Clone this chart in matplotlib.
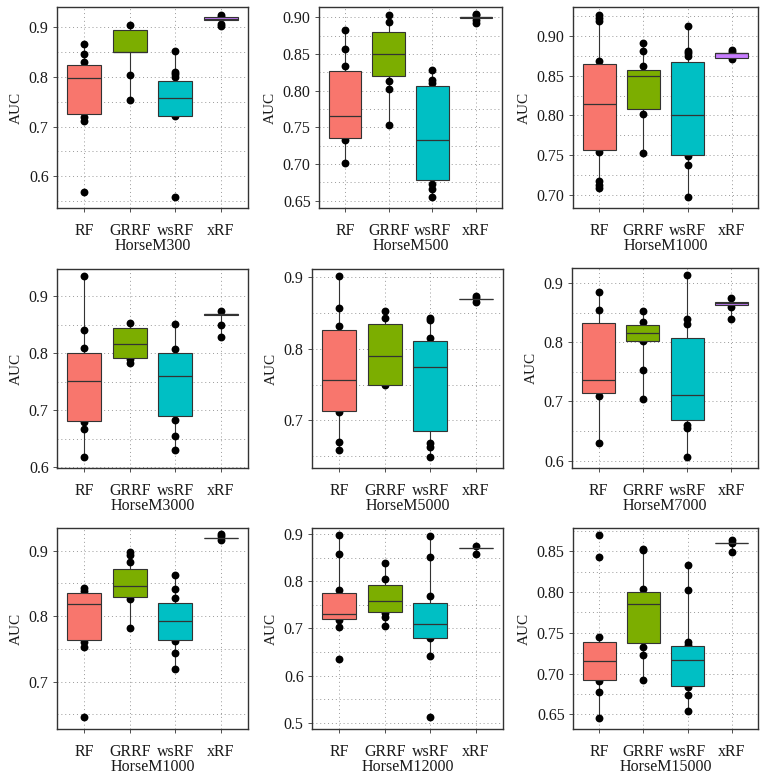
import numpy as np
import matplotlib
matplotlib.use("Agg")
import matplotlib.pyplot as plt
from matplotlib.ticker import MultipleLocator, FormatStrFormatter

plt.rcParams['font.family'] = ['Liberation Serif', 'DejaVu Serif']

methods = ["RF", "GRRF", "wsRF", "xRF"]
colors = ["#F8766D", "#7CAE00", "#00BFC4", "#C77CFF"]
datasets = ["HorseM300", "HorseM500", "HorseM1000",
            "HorseM3000", "HorseM5000", "HorseM7000",
            "HorseM1000", "HorseM12000", "HorseM15000"]

# box statistics per panel, one value per method (RF, GRRF, wsRF, xRF)
q1 = [[0.725, 0.850, 0.7215, 0.915],
      [0.736, 0.820, 0.678, 0.8995],
      [0.756, 0.808, 0.7496, 0.8731],
      [0.682, 0.7926, 0.690, 0.868],
      [0.7126, 0.750, 0.6847, 0.870],
      [0.715, 0.8015, 0.668, 0.8629],
      [0.7643, 0.8291, 0.7633, 0.920],
      [0.7195, 0.7343, 0.680, 0.870],
      [0.6926, 0.7373, 0.6844, 0.860]]
med = [[0.798, 0.850, 0.757, 0.917],
       [0.7655, 0.850, 0.7327, 0.900],
       [0.8147, 0.850, 0.8008, 0.879],
       [0.751, 0.816, 0.760, 0.8685],
       [0.7567, 0.7898, 0.7744, 0.870],
       [0.7357, 0.815, 0.7115, 0.8657],
       [0.8179, 0.8459, 0.7923, 0.920],
       [0.7308, 0.757, 0.7088, 0.870],
       [0.716, 0.7852, 0.7172, 0.860]]
q3 = [[0.8235, 0.894, 0.7926, 0.921],
      [0.8268, 0.8795, 0.8064, 0.9005],
      [0.8655, 0.857, 0.8672, 0.8794],
      [0.8008, 0.845, 0.8008, 0.869],
      [0.827, 0.8349, 0.8107, 0.870],
      [0.833, 0.8297, 0.8071, 0.8685],
      [0.8347, 0.8724, 0.8204, 0.920],
      [0.7754, 0.7917, 0.7542, 0.870],
      [0.7385, 0.800, 0.7344, 0.860]]
whis_lo = [[0.711, 0.754, 0.721, 0.903],
           [0.702, 0.7527, 0.655, 0.892],
           [0.7084, 0.752, 0.697, 0.8714],
           [0.618, 0.783, 0.6297, 0.8288],
           [0.659, 0.750, 0.6493, 0.866],
           [0.6299, 0.7036, 0.6062, 0.8387],
           [0.7536, 0.7816, 0.7194, 0.916],
           [0.7025, 0.7039, 0.6423, 0.8582],
           [0.6459, 0.6926, 0.6545, 0.8492]]
whis_hi = [[0.866, 0.905, 0.852, 0.925],
           [0.882, 0.903, 0.828, 0.904],
           [0.927, 0.892, 0.9126, 0.8828],
           [0.936, 0.853, 0.851, 0.874],
           [0.9023, 0.8535, 0.8437, 0.8744],
           [0.8848, 0.853, 0.913, 0.874],
           [0.8429, 0.8985, 0.8622, 0.925],
           [0.8979, 0.8391, 0.8958, 0.8752],
           [0.7451, 0.8533, 0.8336, 0.8639]]

# individual AUC values drawn as dots
points = [
    [[0.866, 0.846, 0.831, 0.72, 0.711, 0.568],
     [0.905, 0.804, 0.754],
     [0.852, 0.811, 0.807, 0.800, 0.721, 0.558],
     [0.925, 0.921, 0.907, 0.903]],
    [[0.882, 0.857, 0.8336, 0.7327, 0.702],
     [0.903, 0.893, 0.813, 0.8027, 0.7527],
     [0.828, 0.814, 0.811, 0.673, 0.666, 0.655],
     [0.904, 0.903, 0.896, 0.892]],
    [[0.927, 0.9227, 0.9197, 0.8693, 0.7534, 0.7168, 0.7126, 0.7084],
     [0.892, 0.882, 0.862, 0.802, 0.752],
     [0.9126, 0.882, 0.8786, 0.8756, 0.7487, 0.737, 0.697],
     [0.8828, 0.880, 0.8714]],
    [[0.936, 0.841, 0.810, 0.6805, 0.6677, 0.618],
     [0.853, 0.790, 0.783],
     [0.851, 0.8083, 0.6834, 0.6554, 0.6297],
     [0.874, 0.8498, 0.8288]],
    [[0.9023, 0.8577, 0.8316, 0.7112, 0.6693, 0.659],
     [0.8535, 0.8437, 0.750],
     [0.8437, 0.840, 0.8149, 0.6684, 0.6623, 0.6493],
     [0.8744, 0.8707, 0.866]],
    [[0.8848, 0.855, 0.7092, 0.6299],
     [0.853, 0.8336, 0.8026, 0.7537, 0.7036],
     [0.913, 0.8392, 0.8308, 0.661, 0.6546, 0.6062],
     [0.874, 0.859, 0.8387]],
    [[0.8429, 0.8388, 0.7612, 0.7536, 0.6454],
     [0.8985, 0.8934, 0.8827, 0.8265, 0.7816],
     [0.8622, 0.8413, 0.827, 0.7617, 0.7434, 0.7194],
     [0.925, 0.922, 0.916]],
    [[0.8979, 0.8568, 0.7811, 0.718, 0.7025, 0.6359],
     [0.8391, 0.8044, 0.7315, 0.7237, 0.7039],
     [0.8958, 0.8504, 0.769, 0.679, 0.6423, 0.5113],
     [0.8752, 0.8582]],
    [[0.8697, 0.8434, 0.7451, 0.691, 0.6775, 0.6459],
     [0.8533, 0.8516, 0.8033, 0.7328, 0.7225, 0.6926],
     [0.8336, 0.8029, 0.7389, 0.7357, 0.6832, 0.6738, 0.6545],
     [0.8639, 0.8598, 0.8492]],
]

ylims = [(0.536, 0.941), (0.640, 0.914), (0.683, 0.937),
         (0.599, 0.948), (0.6335, 0.9116), (0.5877, 0.9253),
         (0.6276, 0.9347), (0.4866, 0.9127), (0.632, 0.8787)]
major_step = [0.1, 0.05, 0.05, 0.1, 0.1, 0.1, 0.1, 0.1, 0.05]

# axes boxes in pixels: left, right, top, bottom
W, H = 766, 774
boxes_px = [(57, 248, 7, 208), (319, 502, 7, 208), (573, 758, 7, 208),
            (57, 248, 269, 468), (312, 503, 269, 468), (572, 758, 268, 468),
            (57, 248, 528, 729), (312, 503, 528, 729), (573, 758, 528, 729)]

fig = plt.figure(figsize=(W / 100, H / 100), dpi=100)
edge = "#333333"
pos = np.arange(1, 5)

for i in range(9):
    l, r, t, b = boxes_px[i]
    ax = fig.add_axes([l / W, 1 - b / H, (r - l) / W, (b - t) / H])

    stats = []
    for j in range(4):
        stats.append(dict(q1=q1[i][j], med=med[i][j], q3=q3[i][j],
                          whislo=whis_lo[i][j], whishi=whis_hi[i][j],
                          fliers=[]))
    for j in range(4):
        ax.scatter(np.full(len(points[i][j]), pos[j]), points[i][j],
                   s=32, color="black", zorder=2, linewidths=0)
    bp = ax.bxp(stats, positions=pos, widths=0.75, patch_artist=True,
                showcaps=False, showfliers=False,
                boxprops=dict(edgecolor=edge, linewidth=0.8),
                medianprops=dict(color=edge, linewidth=0.9),
                whiskerprops=dict(color=edge, linewidth=0.8))
    for patch, c in zip(bp['boxes'], colors):
        patch.set_facecolor(c)
        patch.set_zorder(3)
    for m in bp['medians']:
        m.set_zorder(4)
    for w in bp['whiskers']:
        w.set_zorder(1.5)

    ax.set_xlim(0.4, 4.6)
    ax.set_ylim(*ylims[i])
    step = major_step[i]
    ax.yaxis.set_major_locator(MultipleLocator(step))
    ax.yaxis.set_minor_locator(MultipleLocator(step / 2))
    ax.yaxis.set_major_formatter(FormatStrFormatter('%.1f' if step == 0.1 else '%.2f'))
    ax.set_xticks(pos)
    ax.set_xticklabels(methods)

    ax.grid(True, which='major', axis='both', linestyle=(0, (1, 3)),
            color="#999999", linewidth=0.7, zorder=0)
    ax.grid(True, which='minor', axis='y', linestyle=(0, (1, 3)),
            color="#999999", linewidth=0.7, zorder=0)
    ax.set_axisbelow(True)

    ax.tick_params(axis='both', which='major', length=3, width=0.6,
                   color=edge, labelsize=11.5, labelcolor="#1a1a1a", pad=3)
    ax.tick_params(axis='y', which='minor', length=0)
    ax.tick_params(axis='x', pad=7.5)
    for sp in ax.spines.values():
        sp.set_color(edge)
        sp.set_linewidth(1.0)

    ax.set_ylabel("AUC", fontsize=11, color="#1a1a1a", labelpad=4)
    ax.set_xlabel(datasets[i], fontsize=11.5, color="#1a1a1a", labelpad=-0.5)

fig.savefig("out.png", dpi=100)
